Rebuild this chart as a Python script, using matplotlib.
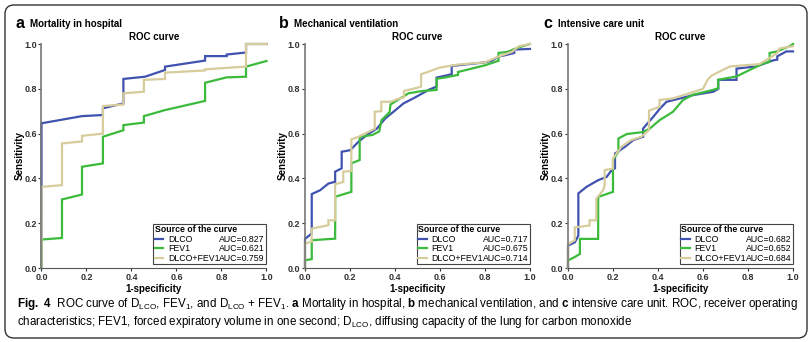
import matplotlib
matplotlib.use('Agg')
import matplotlib.pyplot as plt
from matplotlib.lines import Line2D
from matplotlib.patches import FancyBboxPatch
from matplotlib.transforms import IdentityTransform

plt.rcParams['font.family'] = ['Liberation Sans', 'DejaVu Sans']
plt.rcParams['mathtext.fontset'] = 'custom'
plt.rcParams['mathtext.rm'] = 'Liberation Sans'
plt.rcParams['mathtext.bf'] = 'Liberation Sans:bold'

# --- data (1-specificity, sensitivity) ---
a_dlco_x = [0, 0, 0.18, 0.273, 0.273, 0.364, 0.364, 0.46, 0.549, 0.549, 0.727, 0.727, 0.823, 0.823, 0.909, 0.909, 1.0]
a_dlco_y = [0, 0.646, 0.678, 0.683, 0.713, 0.735, 0.844, 0.854, 0.884, 0.899, 0.926, 0.946, 0.946, 0.953, 0.962, 1.0, 1.0]
a_fev1_x = [0, 0, 0.091, 0.091, 0.18, 0.18, 0.273, 0.273, 0.364, 0.364, 0.455, 0.455, 0.549, 0.727, 0.727, 0.823, 0.909, 0.909, 1.0]
a_fev1_y = [0, 0.127, 0.134, 0.306, 0.328, 0.452, 0.467, 0.586, 0.615, 0.638, 0.649, 0.678, 0.705, 0.746, 0.827, 0.851, 0.854, 0.899, 0.924]
a_both_x = [0, 0, 0.091, 0.091, 0.18, 0.18, 0.273, 0.273, 0.364, 0.364, 0.455, 0.455, 0.549, 0.549, 0.727, 0.727, 0.909, 0.909, 1.0]
a_both_y = [0, 0.362, 0.37, 0.556, 0.565, 0.59, 0.6, 0.723, 0.73, 0.78, 0.787, 0.84, 0.844, 0.872, 0.882, 0.887, 0.899, 1.0, 1.0]

b_dlco_x = [0, 0, 0.03, 0.03, 0.067, 0.104, 0.134, 0.134, 0.163, 0.163, 0.201, 0.238, 0.275, 0.32, 0.357, 0.394, 0.438, 0.483, 0.549, 0.585, 0.585, 0.652, 0.652, 0.8, 0.83, 0.86, 0.89, 0.93, 0.93, 0.95, 1.0]
b_dlco_y = [0, 0.13, 0.154, 0.33, 0.347, 0.377, 0.385, 0.43, 0.445, 0.519, 0.526, 0.564, 0.594, 0.623, 0.668, 0.698, 0.735, 0.758, 0.795, 0.81, 0.85, 0.865, 0.902, 0.918, 0.925, 0.944, 0.95, 0.96, 0.975, 0.976, 0.978]
b_fev1_x = [0, 0, 0.03, 0.03, 0.134, 0.134, 0.206, 0.206, 0.243, 0.243, 0.30, 0.33, 0.34, 0.37, 0.375, 0.38, 0.42, 0.46, 0.52, 0.585, 0.585, 0.62, 0.68, 0.68, 0.8, 0.86, 0.86, 0.9, 0.95, 1.0]
b_fev1_y = [0, 0.034, 0.04, 0.124, 0.131, 0.318, 0.34, 0.467, 0.482, 0.585, 0.594, 0.61, 0.66, 0.69, 0.69, 0.73, 0.755, 0.78, 0.79, 0.795, 0.845, 0.85, 0.862, 0.875, 0.905, 0.925, 0.96, 0.965, 0.985, 1.0]
b_both_x = [0, 0, 0.03, 0.03, 0.104, 0.104, 0.134, 0.134, 0.17, 0.17, 0.206, 0.206, 0.236, 0.31, 0.31, 0.339, 0.339, 0.38, 0.414, 0.44, 0.44, 0.5, 0.516, 0.516, 0.55, 0.6, 0.68, 0.8, 0.86, 0.92, 0.95, 1.0]
b_both_y = [0, 0.109, 0.118, 0.176, 0.191, 0.213, 0.213, 0.374, 0.384, 0.43, 0.433, 0.574, 0.585, 0.622, 0.698, 0.7, 0.742, 0.742, 0.755, 0.762, 0.79, 0.805, 0.81, 0.865, 0.877, 0.895, 0.908, 0.918, 0.944, 0.965, 0.99, 1.0]

c_dlco_x = [0, 0, 0.031, 0.046, 0.046, 0.082, 0.134, 0.172, 0.194, 0.209, 0.209, 0.253, 0.29, 0.334, 0.334, 0.379, 0.409, 0.438, 0.498, 0.557, 0.646, 0.668, 0.668, 0.749, 0.749, 0.838, 0.912, 0.93, 0.93, 0.971, 1.0]
c_dlco_y = [0, 0.1, 0.115, 0.145, 0.333, 0.362, 0.392, 0.407, 0.437, 0.445, 0.511, 0.541, 0.571, 0.586, 0.623, 0.675, 0.712, 0.742, 0.757, 0.772, 0.787, 0.8, 0.84, 0.84, 0.89, 0.9, 0.927, 0.93, 0.945, 0.967, 0.967]
c_fev1_x = [0, 0, 0.03, 0.053, 0.053, 0.134, 0.134, 0.2, 0.2, 0.224, 0.224, 0.261, 0.334, 0.363, 0.407, 0.466, 0.511, 0.555, 0.644, 0.667, 0.667, 0.748, 0.867, 0.896, 0.896, 0.926, 0.985, 1.0]
c_fev1_y = [0, 0.034, 0.049, 0.063, 0.13, 0.13, 0.317, 0.34, 0.482, 0.519, 0.578, 0.598, 0.607, 0.622, 0.66, 0.697, 0.75, 0.773, 0.795, 0.802, 0.84, 0.855, 0.913, 0.92, 0.96, 0.966, 0.99, 1.0]
c_both_x = [0, 0, 0.03, 0.03, 0.096, 0.096, 0.126, 0.126, 0.156, 0.163, 0.163, 0.2, 0.2, 0.237, 0.281, 0.326, 0.36, 0.36, 0.407, 0.407, 0.466, 0.54, 0.6, 0.62, 0.64, 0.68, 0.72, 0.85, 0.9, 0.93, 0.94, 1.0]
c_both_y = [0, 0.106, 0.124, 0.181, 0.19, 0.213, 0.213, 0.31, 0.347, 0.369, 0.437, 0.444, 0.489, 0.541, 0.571, 0.586, 0.616, 0.702, 0.72, 0.75, 0.757, 0.78, 0.80, 0.84, 0.86, 0.88, 0.9, 0.91, 0.94, 0.96, 0.98, 0.99]

series_names = ['DLCO', 'FEV1', 'DLCO+FEV1']
a_auc = ['AUC=0.827', 'AUC=0.621', 'AUC=0.759']
b_auc = ['AUC=0.717', 'AUC=0.675', 'AUC=0.714']
c_auc = ['AUC=0.682', 'AUC=0.652', 'AUC=0.684']
panel_letters = ['a', 'b', 'c']
panel_titles = ['Mortality in hospital', 'Mechanical ventilation', 'Intensive care unit']
ticks = [0.0, 0.2, 0.4, 0.6, 0.8, 1.0]

colors = ['#4052b0', '#3cba3c', '#d6cc9c']

panels = [
    ([(a_dlco_x, a_dlco_y), (a_fev1_x, a_fev1_y), (a_both_x, a_both_y)], a_auc),
    ([(b_dlco_x, b_dlco_y), (b_fev1_x, b_fev1_y), (b_both_x, b_both_y)], b_auc),
    ([(c_dlco_x, c_dlco_y), (c_fev1_x, c_fev1_y), (c_both_x, c_both_y)], c_auc),
]

W, H = 812, 342
fig = plt.figure(figsize=(W / 100, H / 100), dpi=100)

ax_left = [41.5, 305, 568]
letter_x = [15, 279, 543]

for i, (curves, aucs) in enumerate(panels):
    ax = fig.add_axes([ax_left[i] / W, (H - 268) / H, 225 / W, 224 / H])
    for (xs, ys), col in zip(curves, colors):
        ax.plot(xs, ys, color=col, lw=1.6, clip_on=False, solid_joinstyle='miter')
    ax.set_xlim(0, 1)
    ax.set_ylim(0, 1)
    ax.set_xticks(ticks)
    ax.set_yticks(ticks)
    ax.set_xticklabels(['%.1f' % t for t in ticks], fontweight='bold', fontsize=6.5)
    ax.set_yticklabels(['%.1f' % t for t in ticks], fontweight='bold', fontsize=6.5)
    ax.tick_params(length=2.5, width=0.8, pad=0.8, colors='#333333')
    for s in ['top', 'right']:
        ax.spines[s].set_visible(False)
    ax.spines['left'].set_color('#777777')
    ax.spines['left'].set_linewidth(1.2)
    ax.spines['bottom'].set_color('#555555')
    ax.spines['bottom'].set_linewidth(0.8)
    ax.set_xlabel('1-specificity', fontweight='bold', fontsize=7, labelpad=1.5)
    ax.set_ylabel('Sensitivity', fontweight='bold', fontsize=7, labelpad=0)
    ax.set_title('ROC curve', fontweight='bold', fontsize=7, pad=3)

    handles = [Line2D([], [], color=c, lw=1.6) for c in colors]
    handles += [Line2D([], [], color='none') for _ in colors]
    leg = ax.legend(handles, series_names + aucs, ncol=2, loc='lower right',
                    bbox_to_anchor=(1.0, 4 / 224), borderaxespad=0,
                    title='Source of the curve', alignment='left',
                    fontsize=6.3, title_fontproperties={'weight': 'bold', 'size': 6.3},
                    fancybox=False, framealpha=1, edgecolor='#444444',
                    handlelength=1.0, handletextpad=0.5, columnspacing=-1.5,
                    labelspacing=0.05, borderpad=0.15)
    leg.get_frame().set_linewidth(0.8)

    fig.text(letter_x[i] / W, 1 - 24 / H, panel_letters[i], fontsize=11.5,
             fontweight='bold', va='center', ha='left')
    fig.text((letter_x[i] + 15) / W, 1 - 24 / H, panel_titles[i], fontsize=7,
             fontweight='bold', va='center', ha='left')

cap1 = (r'$\mathbf{Fig.\ 4}$  ROC curve of D$_{\mathrm{LCO}}$, FEV$_{1}$, and D$_{\mathrm{LCO}}$ + FEV$_{1}$. '
        r'$\mathbf{a}$ Mortality in hospital, $\mathbf{b}$ mechanical ventilation, and '
        r'$\mathbf{c}$ intensive care unit. ROC, receiver operating')
cap2 = (r'characteristics; FEV1, forced expiratory volume in one second; D$_{\mathrm{LCO}}$, '
        r'diffusing capacity of the lung for carbon monoxide')
t1 = fig.text(17 / W, 1 - 304 / H, cap1, fontsize=9, va='center', ha='left')
t2 = fig.text(17 / W, 1 - 322 / H, cap2, fontsize=9, va='center', ha='left')

# shrink caption so the first line spans the same width as in the original
fig.canvas.draw()
w1 = t1.get_window_extent().width
size = 9 * 778 / w1
t1.set_fontsize(size)
t2.set_fontsize(size)

box = FancyBboxPatch((5, 4), 802, 333, boxstyle='round,pad=0,rounding_size=9',
                     transform=IdentityTransform(), fill=False, edgecolor='#333333', lw=1.0)
fig.patches.append(box)

fig.savefig('out.png', dpi=100)
